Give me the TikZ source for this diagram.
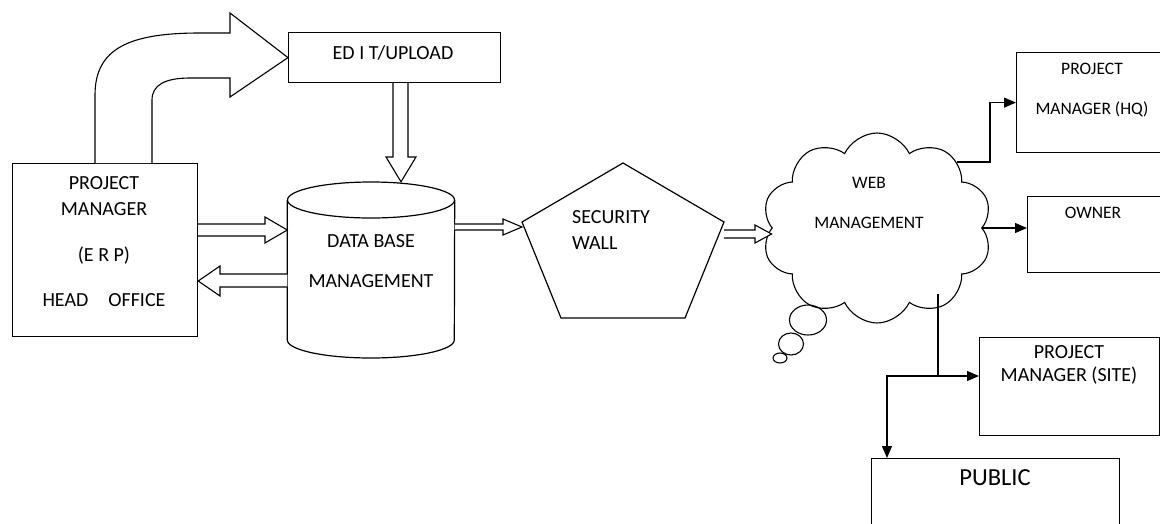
\documentclass[tikz,border=0pt]{standalone}
\usepackage{fontspec}
\setmainfont{Carlito}
\usetikzlibrary{positioning,shapes.symbols,arrows.meta}
\tikzstyle{box} = [draw, line width=1.2pt, anchor=north west, inner sep=0pt]
\tikzstyle{lbl} = [font=\fontsize{20}{26}\selectfont, align=center, inner sep=0pt]
\tikzstyle{small} = [font=\fontsize{17.5}{23}\selectfont, align=center, inner sep=0pt]
\tikzstyle{flow} = [line width=1.2pt, -{Triangle[length=12pt,width=10pt]}]
\tikzstyle{hollow} = [draw, line width=1.1pt, fill=white, line join=miter]
\begin{document}
\begin{tikzpicture}[x=1pt, y=-1pt]
\useasboundingbox (0,0) rectangle (1160,523);

% boxes
\node[box, minimum width=185pt, minimum height=173pt] (pm) at (12,163) {};
\node[lbl] (pmtxt) at (104,242) {PROJECT\\MANAGER\\[20pt](E R P)\\[19pt]HEAD\hspace{20pt}OFFICE};
\node[box, minimum width=212pt, minimum height=50pt] (edit) at (288,32) {};
\node[lbl] (edittxt) at (393,53) {ED I T/UPLOAD};

% data base cylinder
\node[minimum width=167pt, minimum height=176pt, inner sep=0pt] (db) at (371,270) {};
\draw[line width=1.2pt] (db.north |- 0,200) ellipse [x radius=83.5, y radius=18];
\draw[line width=1.2pt] (db.west |- 0,200) -- (db.west |- 0,340)
      arc[start angle=180, end angle=0, x radius=83.5, y radius=18] -- (db.east |- 0,200);
\node[lbl] (dbtxt) at (371,261) {DATA BASE\\[14pt]MANAGEMENT};

% security wall
\coordinate (secL) at (522,222);
\coordinate (secR) at (724,222);
\draw[line width=1.2pt] (623,163) -- (secR) -- (685,318) -- (561,318) -- (secL) -- cycle;
\node[lbl, align=left, anchor=west] (sec) at (572,230) {SECURITY\\WALL};

% web management
\node[cloud, draw, fill=white, line width=1.1pt, cloud puffs=10, cloud puff arc=130,
      cloud ignores aspect, minimum width=230pt, minimum height=190pt, inner sep=0pt] (web) at (877,228) {};
\node[small] (webtxt) at (869,203) {WEB\\[17pt]MANAGEMENT};
\draw[line width=1.1pt] (808,320) ellipse [x radius=18.5, y radius=15];
\draw[line width=1.1pt] (791,344) ellipse [x radius=12.5, y radius=11];
\draw[line width=1.1pt] (780,358) ellipse [x radius=7, y radius=5];

% receivers
\node[box, minimum width=170pt, minimum height=100pt] (hq) at (1016,52) {};
\node[small] (hqtxt) at (1092,90) {PROJECT\\[17pt]MANAGER (HQ)};
\node[box, minimum width=160pt, minimum height=76pt] (owner) at (1027,196) {};
\node[small] (ownertxt) at (1093,213) {OWNER};
\node[box, minimum width=180pt, minimum height=98pt] (site) at (979,337) {};
\node[lbl, font=\fontsize{20}{23}\selectfont] (sitetxt) at (1069,365) {PROJECT\\MANAGER (SITE)};
\node[box, minimum width=248pt, minimum height=90pt] (pub) at (871,458) {};
\node[lbl, font=\fontsize{24.5}{28}\selectfont] (pubtxt) at (995,478) {PUBLIC};

% block arrows
\draw[hollow] (pm.north -| 95,0) -- (95,95) .. controls (95,48) and (130,33) .. (200,33)
      -- (230,33) -- (230,13) -- (edit.west) -- (230,97) -- (230,78) -- (190,78)
      .. controls (165,78) and (152,85) .. (152,100) -- (pm.north -| 152,0);
\draw[hollow] (edit.south -| 393,0) -- (393,157) -- (386,157) -- (db.north -| 401,0)
      -- (416,157) -- (408,157) -- (edit.south -| 408,0);
\draw[hollow] (pm.east |- 0,224) -- (265,224) -- (265,217) -- (db.west |- 0,230)
      -- (265,243) -- (265,236) -- (pm.east |- 0,236);
\draw[hollow] (db.west |- 0,274) -- (220,274) -- (220,266) -- (pm.east |- 0,281)
      -- (220,296) -- (220,287) -- (db.west |- 0,287);
\draw[hollow] (db.east |- 0,224) -- (503,224) -- (503,219) -- (secL |- 0,227)
      -- (503,235) -- (503,230) -- (db.east |- 0,230);
\draw[hollow] (secR |- 0,230) -- (755,230) -- (755,225) -- (web.west |- 0,234)
      -- (755,243) -- (755,238) -- (secR |- 0,238);

% connectors
\coordinate (fork) at (938,376);
\draw[flow] (web.north east) -- ++(33,0) |- (hq.west);
\draw[flow] (web.east) -- (web.east -| owner.west);
\draw[line width=1.2pt] (fork |- web.south east) -- (fork);
\draw[flow] (fork) -- (fork -| site.west);
\draw[flow] (fork) -| ([xshift=16pt]pub.north west);
\end{tikzpicture}
\end{document}
